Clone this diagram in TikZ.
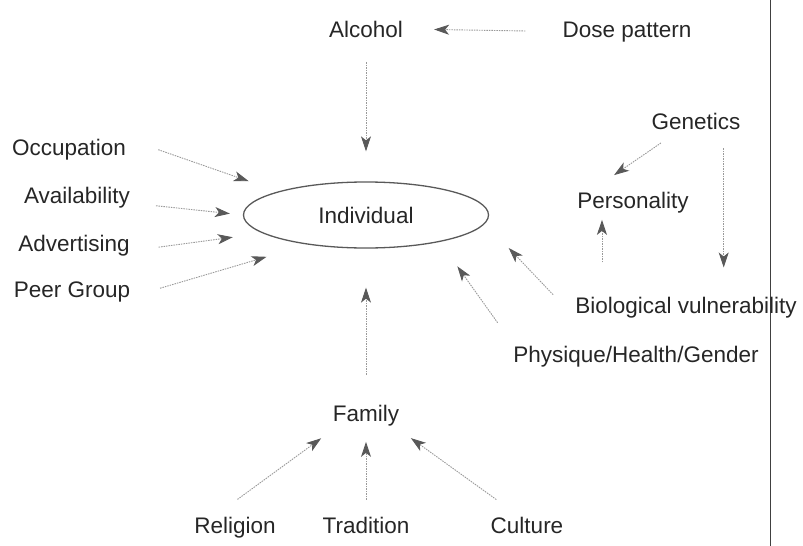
\documentclass[tikz,border=0pt]{standalone}
\usepackage{fontspec}
\setmainfont{Liberation Sans}
\usetikzlibrary{arrows.meta,shapes.geometric}

\begin{document}
\begin{tikzpicture}[x=1pt, y=-1pt,
	lbl/.style={inner sep=0pt, anchor=base, text=black!85, font=\fontsize{22.5}{26}\selectfont},
	infl/.style={-{Stealth[length=15pt,width=10pt,inset=4pt,color=black!65]}, draw=black!40, line width=0.9pt, dash pattern=on 1.5pt off 1pt}]
	\useasboundingbox (0,0) rectangle (803,546);
	
	% Frame edge
	\draw[black!75, line width=0.9pt] (770,0) -- (770,546);
	
	% Individual
	\node[ellipse, draw=black!65, line width=1.3pt, minimum width=245pt, minimum height=66pt, inner sep=0pt, text=black!85, font=\fontsize{22.5}{26}\selectfont] (ind) at (366,215) {Individual};
	
	% Alcohol and dose
	\node[lbl] (alc) at (366,37) {Alcohol};
	\node[lbl] (dose) at (627,37) {Dose pattern};
	\draw[infl, shorten <=37pt, shorten >=31pt] (dose.west) -- (alc.east);
	\draw[infl, shorten <=25pt, shorten >=30pt] (alc.south) -- (ind.north);
	
	% Outside influences
	\node[lbl] (occ) at (69,155) {Occupation};
	\node[lbl] (avail) at (77,203) {Availability};
	\node[lbl] (adv) at (74,251) {Advertising};
	\node[lbl] (peer) at (72,297) {Peer Group};
	\draw[infl, shorten <=34pt, shorten >=31pt] (occ.north east) -- (ind.165);
	\draw[infl, shorten <=26pt, shorten >=13pt] (avail.base east) -- (ind.west);
	\draw[infl, shorten <=29pt, shorten >=30pt] (adv.base east) -- (ind.190);
	\draw[infl, shorten <=31pt, shorten >=43pt] (peer.base east) -- (ind.207);
	
	% Genetics, personality, body
	\node[lbl] (gen) at (696,129) {Genetics};
	\node[lbl] (pers) at (633,208) {Personality};
	\node[lbl] (bio) at (686,313) {Biological vulnerability};
	\node[lbl] (phys) at (636,362) {Physique/Health/Gender};
	\draw[infl, shorten <=24pt, shorten >=29pt] (gen.209) -- (pers.166);
	\draw[infl, shorten <=19pt, shorten >=29pt] (gen.343) -- (gen.343 |- bio.north);
	\draw[infl, shorten <=34pt, shorten >=7pt] (pers.199 |- bio.north) -- (pers.199);
	\draw[infl, shorten <=32pt, shorten >=34pt] (bio.south west) -- (ind.356);
	\draw[infl, shorten <=28pt, shorten >=30pt] (phys.175) -- (ind.340);
	
	% Family and its roots
	\node[lbl] (fam) at (366,421) {Family};
	\node[lbl] (rel) at (235,533) {Religion};
	\node[lbl] (trad) at (366,533) {Tradition};
	\node[lbl] (cult) at (527,533) {Culture};
	\draw[infl, shorten <=30pt, shorten >=39pt] (fam.north) -- (ind.south);
	\draw[infl, shorten <=29pt, shorten >=21pt] (rel.153) -- (fam.201);
	\draw[infl, shorten <=17pt, shorten >=16pt] (trad.north) -- (fam.south);
	\draw[infl, shorten <=29pt, shorten >=21pt] (cult.130) -- (fam.339);
\end{tikzpicture}
\end{document}
